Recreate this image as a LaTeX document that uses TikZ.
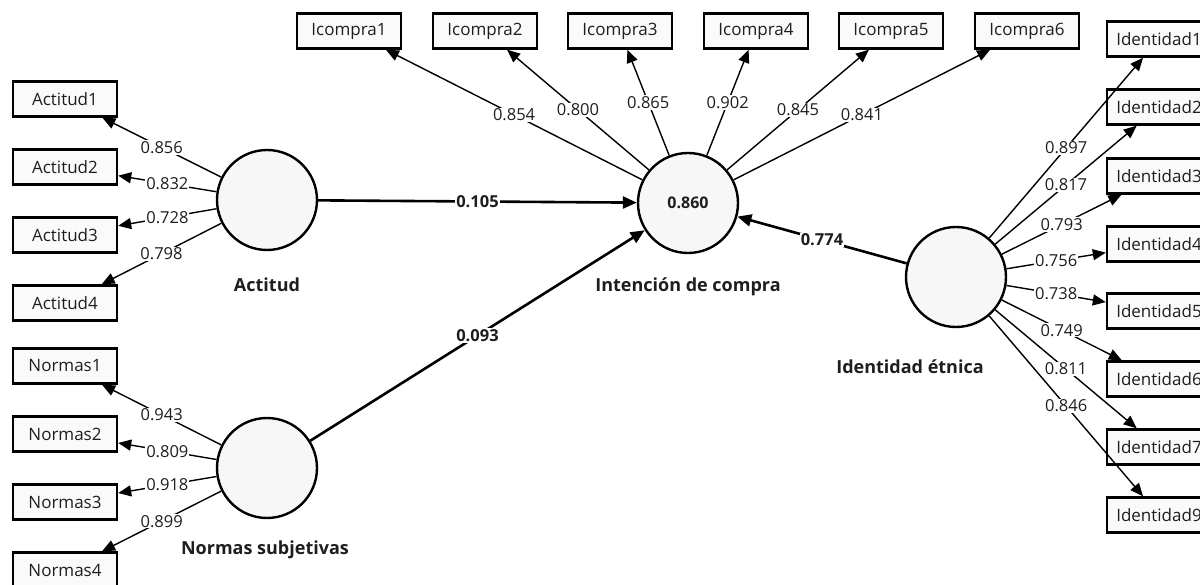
\documentclass[tikz,border=0pt]{standalone}
\usepackage{fontspec}
\setmainfont{Open Sans}
\usetikzlibrary{arrows.meta}
\definecolor{txt}{HTML}{1E1E1E}
\begin{document}
\begin{tikzpicture}[x=1pt,y=-1pt,
  ind/.style={draw, line width=2.4pt, fill=gray!4, minimum width=104pt, minimum height=35pt, inner sep=0pt, text=txt, font=\fontsize{17}{20}\selectfont},
  lat/.style={circle, draw, line width=2.4pt, fill=gray!6, minimum size=100pt, inner sep=0pt, text=txt, font=\fontsize{16}{19}\selectfont\bfseries},
  lbl/.style={text=txt, font=\fontsize{18}{21}\selectfont\bfseries},
  meas/.style={line width=1.4pt, -{Triangle[length=13pt,width=11pt]}},
  strpath/.style={line width=2.6pt, -{Triangle[length=14pt,width=12pt]}},
  val/.style={fill=white, inner sep=1pt, text=txt, font=\fontsize{16.5}{19}\selectfont},
  pval/.style={fill=white, inner sep=1pt, text=txt, font=\fontsize{16.5}{19}\selectfont\bfseries}]
\clip (0,0) rectangle (1200,585);
\fill[white] (0,0) rectangle (1200,585);
% latent variables
\node[lat] (act) at (267,200) {};
\node[lbl] (actl) at (267,285) {Actitud};
\node[lat] (nor) at (267,468) {};
\node[lbl] (norl) at (265,550) {Normas subjetivas};
\node[lat] (ic) at (688,203) {0.860};
\node[lbl] (icl) at (688,287) {Intención de compra};
\node[lat] (ie) at (956,277) {};
\node[lbl] (iel) at (910,367) {Identidad étnica};
% indicators
\node[ind] (a1) at (65,99) {Actitud1};
\node[ind] (a2) at (65,167) {Actitud2};
\node[ind] (a3) at (65,235) {Actitud3};
\node[ind] (a4) at (65,303) {Actitud4};
\node[ind] (n1) at (65,366) {Normas1};
\node[ind] (n2) at (65,434) {Normas2};
\node[ind] (n3) at (65,502) {Normas3};
\node[ind] (n4) at (65,570) {Normas4};
\node[ind] (c1) at (349,31) {Icompra1};
\node[ind] (c2) at (485,31) {Icompra2};
\node[ind] (c3) at (620,31) {Icompra3};
\node[ind] (c4) at (756,31) {Icompra4};
\node[ind] (c5) at (891,31) {Icompra5};
\node[ind] (c6) at (1027,31) {Icompra6};
\node[ind] (e1) at (1159,39) {Identidad1};
\node[ind] (e2) at (1159,107) {Identidad2};
\node[ind] (e3) at (1159,176) {Identidad3};
\node[ind] (e4) at (1159,244) {Identidad4};
\node[ind] (e5) at (1159,311) {Identidad5};
\node[ind] (e6) at (1159,379) {Identidad6};
\node[ind] (e7) at (1159,447) {Identidad7};
\node[ind] (e9) at (1159,515) {Identidad9};
% loadings
\draw[meas] (act) -- node[val]{0.856} (a1);
\draw[meas] (act) -- node[val]{0.832} (a2);
\draw[meas] (act) -- node[val]{0.728} (a3);
\draw[meas] (act) -- node[val]{0.798} (a4);
\draw[meas] (nor) -- node[val]{0.943} (n1);
\draw[meas] (nor) -- node[val]{0.809} (n2);
\draw[meas] (nor) -- node[val]{0.918} (n3);
\draw[meas] (nor) -- node[val]{0.899} (n4);
\draw[meas] (ic) -- node[val]{0.854} (c1);
\draw[meas] (ic) -- node[val]{0.800} (c2);
\draw[meas] (ic) -- node[val]{0.865} (c3);
\draw[meas] (ic) -- node[val]{0.902} (c4);
\draw[meas] (ic) -- node[val]{0.845} (c5);
\draw[meas] (ic) -- node[val]{0.841} (c6);
\draw[meas] (ie) -- node[val]{0.897} (e1);
\draw[meas] (ie) -- node[val]{0.817} (e2);
\draw[meas] (ie) -- node[val]{0.793} (e3);
\draw[meas] (ie) -- node[val]{0.756} (e4);
\draw[meas] (ie) -- node[val]{0.738} (e5);
\draw[meas] (ie) -- node[val]{0.749} (e6);
\draw[meas] (ie) -- node[val]{0.811} (e7);
\draw[meas] (ie) -- node[val]{0.846} (e9);
% structural paths
\draw[strpath] (act) -- node[pval]{0.105} (ic);
\draw[strpath] (nor) -- node[pval]{0.093} (ic);
\draw[strpath] (ie) -- node[pval]{0.774} (ic);
\end{tikzpicture}
\end{document}
